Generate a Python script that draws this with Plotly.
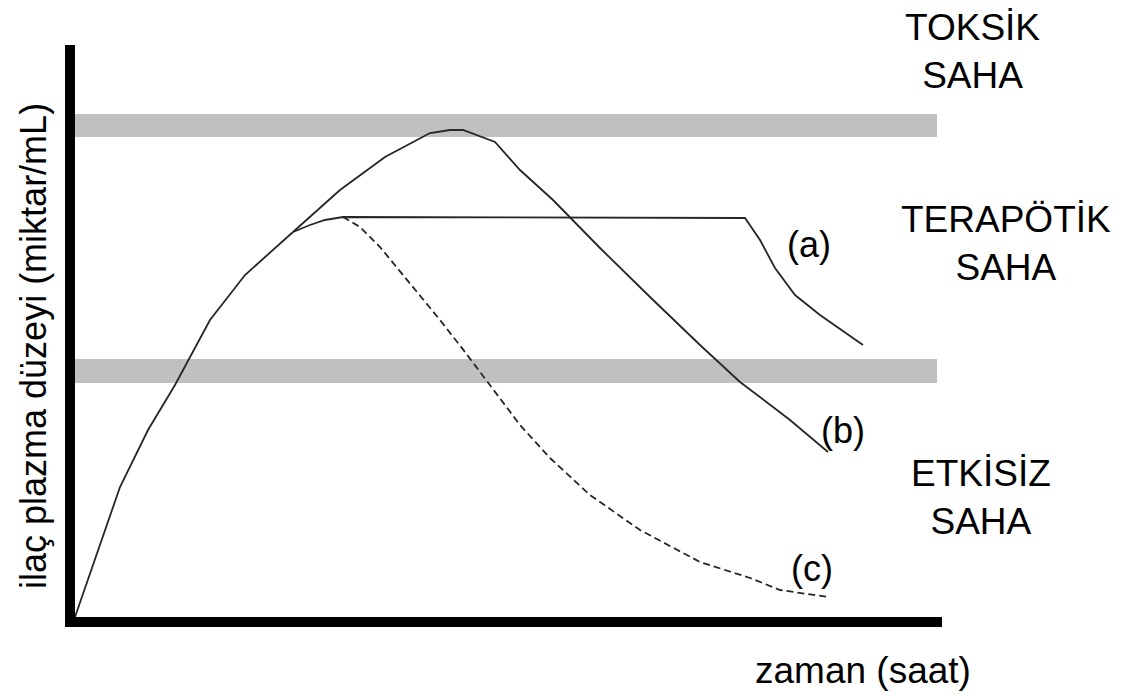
import plotly.graph_objects as go

# Data (time units, concentration units)
rise_t = [0.5, 2.5, 5.0, 7.8, 10.5, 14.0, 17.5, 22.3]
rise_v = [0.5, 6.2, 13.5, 19.2, 23.7, 30.2, 34.7, 39.0]

b_t = [22.3, 27.0, 31.5, 36.0, 38.0, 39.3, 42.5, 45.0, 48.3, 53.0, 58.0, 63.0, 67.0, 72.0, 75.8]
b_v = [39.0, 43.2, 46.5, 48.9, 49.2, 49.2, 48.0, 45.2, 42.2, 37.4, 32.5, 27.7, 24.0, 20.2, 17.0]

a_t = [22.3, 24.0, 25.5, 27.3, 67.5, 69.0, 70.5, 72.5, 75.0, 77.5, 79.3]
a_v = [39.0, 39.7, 40.2, 40.5, 40.4, 38.2, 35.4, 32.7, 30.7, 29.0, 27.7]

c_t = [27.3, 29.0, 31.0, 34.3, 37.0, 39.5, 42.0, 45.0, 48.0, 52.0, 57.0, 63.0, 68.0, 71.0, 75.8]
c_v = [40.5, 39.5, 37.5, 33.5, 30.2, 27.0, 23.7, 19.7, 16.4, 12.7, 9.2, 6.0, 4.4, 3.2, 2.5]

# Bands (concentration limits)
toxic_band = [48.5, 50.8]
ineffective_band = [23.9, 26.3]
band_t = [0.5, 86.7]

zone_labels = ["TOKSİK<br>SAHA", "TERAPÖTİK<br>SAHA", "ETKİSİZ<br>SAHA"]
curve_labels = ["(a)", "(b)", "(c)"]
x_title = "zaman (saat)"
y_title = "ilaç plazma düzeyi (miktar/mL)"

FONT = "Liberation Sans, Arial, sans-serif"
LC = "#262626"
OFF = 8  # page body margin

fig = go.Figure()

fig.add_trace(go.Scatter(x=rise_t, y=rise_v, mode="lines",
                         line=dict(color=LC, width=1.8), showlegend=False))
fig.add_trace(go.Scatter(x=b_t, y=b_v, mode="lines",
                         line=dict(color=LC, width=1.8), showlegend=False))
fig.add_trace(go.Scatter(x=a_t, y=a_v, mode="lines",
                         line=dict(color=LC, width=1.8), showlegend=False))
fig.add_trace(go.Scatter(x=c_t, y=c_v, mode="lines",
                         line=dict(color=LC, width=1.8, dash="7px,4px"), showlegend=False))

shapes = []
for lo, hi in [toxic_band, ineffective_band]:
    shapes.append(dict(type="rect", xref="x", yref="y", x0=band_t[0], x1=band_t[1],
                       y0=lo, y1=hi, fillcolor="#c0c0c0", line=dict(width=0), layer="below"))
# axes
shapes.append(dict(type="line", xref="x", yref="y", x0=0, x1=0, y0=-0.3, y1=57.7,
                   line=dict(color="black", width=10)))
shapes.append(dict(type="line", xref="x", yref="y", x0=-0.5, x1=87.2, y0=0, y1=0,
                   line=dict(color="black", width=10)))

W, H = 1123, 696
def px(x, y):
    return (x - OFF) / W, 1 - (y - OFF) / H

annotations = []
for text, (x, y) in zip(zone_labels, [(972, 51), (1006, 243), (981, 498)]):
    ax, ay = px(x, y)
    annotations.append(dict(text=text, x=ax, y=ay, xref="paper", yref="paper",
                            showarrow=False, xanchor="center", yanchor="middle",
                            align="center", font=dict(family=FONT, size=37, color="black")))
for text, (x, y) in zip(curve_labels, [(809, 245), (843, 430), (812, 568)]):
    ax, ay = px(x, y)
    annotations.append(dict(text=text, x=ax, y=ay, xref="paper", yref="paper",
                            showarrow=False, xanchor="center", yanchor="middle",
                            font=dict(family=FONT, size=36, color="black")))
ax, ay = px(863, 670)
annotations.append(dict(text=x_title, x=ax, y=ay, xref="paper", yref="paper",
                        showarrow=False, xanchor="center", yanchor="middle",
                        font=dict(family=FONT, size=37, color="black")))
ax, ay = px(33, 346)
annotations.append(dict(text=y_title, x=ax, y=ay, xref="paper", yref="paper",
                        showarrow=False, xanchor="center", yanchor="middle", textangle=-90,
                        font=dict(family=FONT, size=36, color="black")))

fig.update_layout(
    width=W, height=H,
    margin=dict(l=0, r=0, t=0, b=0),
    paper_bgcolor="white", plot_bgcolor="white",
    xaxis=dict(range=[-6.2, 106.1], visible=False, fixedrange=True),
    yaxis=dict(range=[-8.2, 61.4], visible=False, fixedrange=True),
    shapes=shapes, annotations=annotations, showlegend=False,
)

fig.write_html("out.html")
